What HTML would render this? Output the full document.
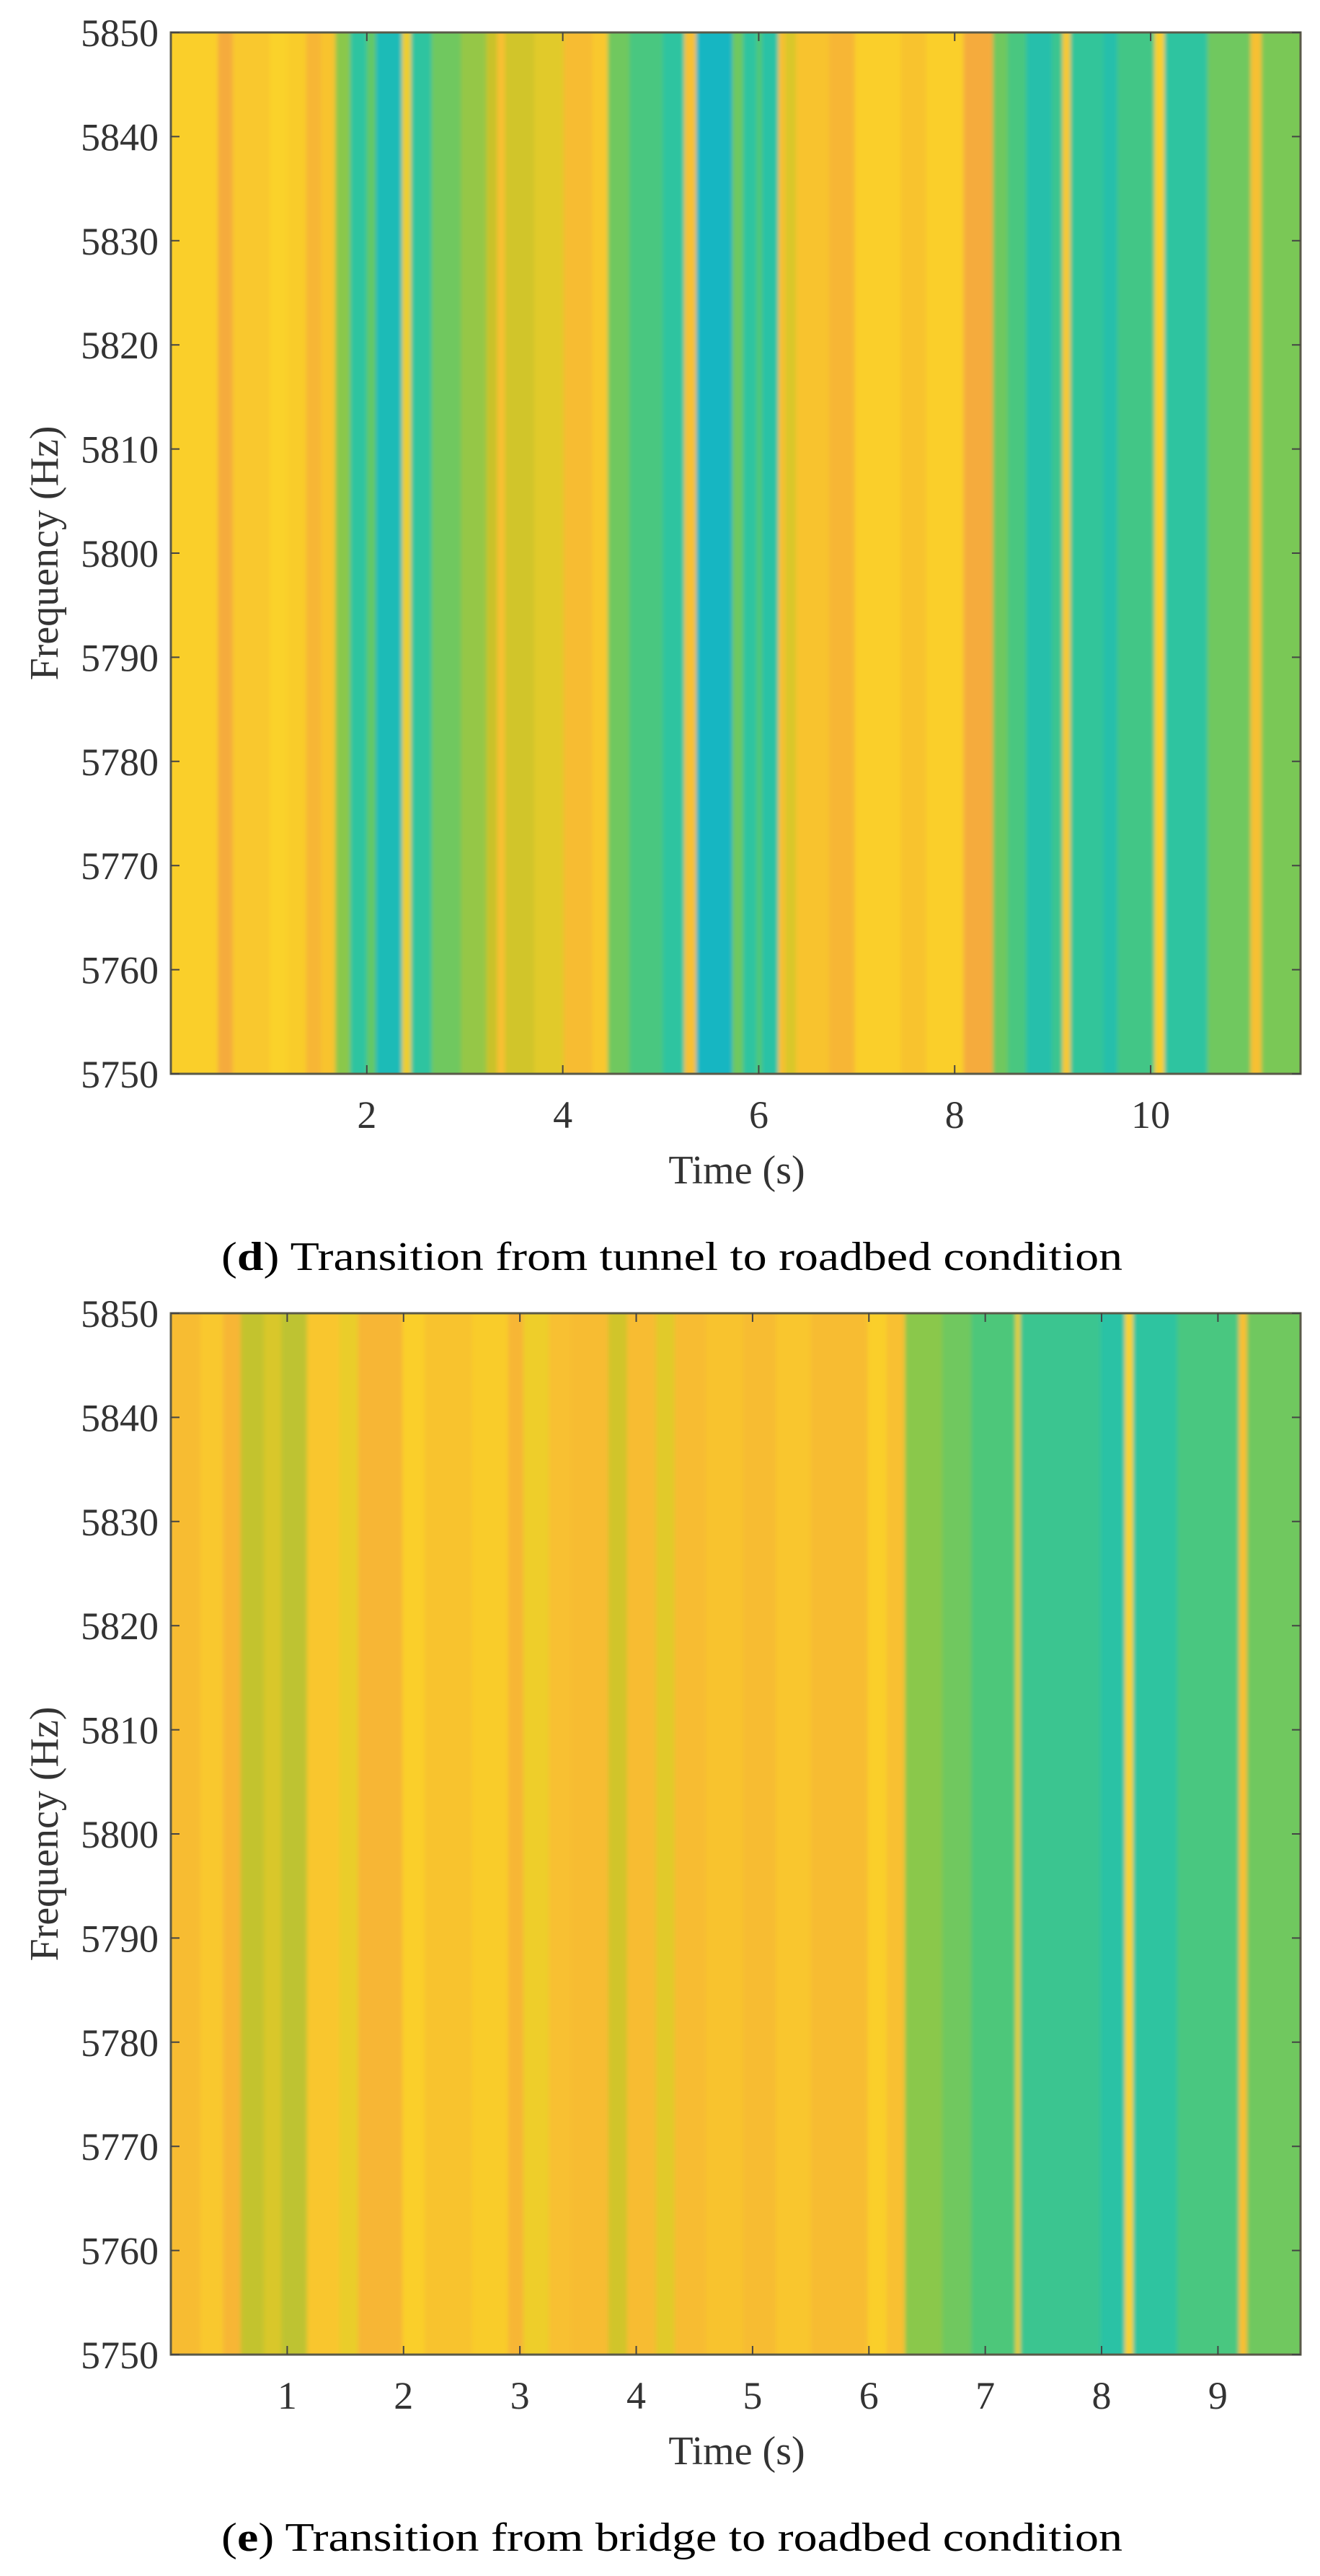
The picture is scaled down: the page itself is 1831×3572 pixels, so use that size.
<!DOCTYPE html>
<html><head><meta charset="utf-8"><style>
html,body{margin:0;padding:0;background:#fff;}
svg{display:block;}
text{font-family:"Liberation Serif","Times New Roman",serif;}
</style></head>
<body>
<svg id="fig" xmlns="http://www.w3.org/2000/svg" width="1831" height="3572" viewBox="0 0 1831 3572">
<defs>
<filter id="soft" x="-1%" y="0" width="102%" height="100%"><feGaussianBlur stdDeviation="3 0"/></filter>
<clipPath id="clipd"><rect x="237" y="45" width="1567" height="1444"/></clipPath>
<clipPath id="clipe"><rect x="237" y="1821" width="1567" height="1444"/></clipPath>
</defs>
<rect width="1831" height="3572" fill="#fff"/>
<g id="pd"></g>
<g id="pe"></g>
</svg>
<script>
// Panel (d): segment start times (s) and relative magnitudes
const dStarts = [0,0.48,0.63,1.01,1.19,1.38,1.53,1.68,1.83,2.0,2.09,2.36,2.45,2.66,2.96,3.22,3.33,3.41,3.71,4.01,4.3,4.46,4.68,5.02,5.24,5.36,5.73,5.84,5.98,6.03,6.2,6.27,6.38,6.72,6.98,7.45,7.71,8.09,8.39,8.54,8.73,8.99,9.1,9.18,9.52,9.66,10.04,10.14,10.58,11.02,11.13];
const dValues = [0.8,1.0,0.85,0.78,0.82,0.95,0.88,0.55,0.3,0.48,0.2,0.75,0.3,0.5,0.57,0.66,0.9,0.68,0.72,0.92,0.85,0.5,0.4,0.3,0.9,0.15,0.5,0.3,0.45,0.28,0.9,0.7,0.88,0.95,0.8,0.88,0.8,1.0,0.5,0.4,0.25,0.35,0.85,0.32,0.25,0.38,0.8,0.3,0.5,0.9,0.52];
const dTmax = 11.53;
const dXTicks = [2,4,6,8,10];
// Panel (e)
const eStarts = [0,0.25,0.45,0.6,0.8,0.95,1.17,1.45,1.61,1.99,2.18,2.59,2.9,3.03,3.25,3.44,3.76,3.92,4.17,4.33,4.6,4.92,5.2,5.5,5.99,6.15,6.31,6.63,6.88,7.26,7.3,7.99,8.2,8.27,8.65,9.18,9.25];
const eValues = [0.92,0.85,0.95,0.65,0.7,0.64,0.86,0.74,0.95,0.8,0.88,0.82,0.95,0.75,0.9,0.92,0.68,0.92,0.72,0.92,0.88,0.92,0.86,0.92,0.8,0.9,0.55,0.5,0.42,0.75,0.35,0.28,0.78,0.3,0.4,0.9,0.5];
const eTmax = 9.71;
const eXTicks = [1,2,3,4,5,6,7,8,9];
const yTicks = [5750,5760,5770,5780,5790,5800,5810,5820,5830,5840,5850];

const NS = "http://www.w3.org/2000/svg";
const stops = [[0.15,[22,182,194]],[0.3,[46,196,160]],[0.45,[85,200,112]],[0.55,[138,200,76]],[0.66,[201,194,42]],[0.78,[250,210,42]],[0.9,[248,192,48]],[1.0,[245,171,60]]];
function colorOf(v){
  if(v<=stops[0][0]) return "rgb("+stops[0][1].join(",")+")";
  for(let i=1;i<stops.length;i++){
    if(v<=stops[i][0]){
      const a=stops[i-1],b=stops[i],f=(v-a[0])/(b[0]-a[0]);
      const c=a[1].map((x,k)=>Math.round(x+(b[1][k]-x)*f));
      return "rgb("+c.join(",")+")";
    }
  }
  return "rgb("+stops[stops.length-1][1].join(",")+")";
}
function mk(tag,attrs,parent){
  const el=document.createElementNS(NS,tag);
  for(const k in attrs) el.setAttribute(k,attrs[k]);
  parent.appendChild(el);
  return el;
}
function drawPanel(g,starts,values,tmax,xticks,top,captionBold,captionRest,prefix,clipId){
  const L=237,R=1804,T=top,B=top+1444;
  const xs=t=>L+(t/tmax)*(R-L);
  const ys=f=>B-(f-5750)/100*(B-T);
  const cg=mk("g",{"clip-path":"url(#"+clipId+")"},g);
  const fg=mk("g",{filter:"url(#soft)"},cg);
  for(let i=0;i<starts.length;i++){
    const x0=xs(starts[i]);
    const x1=xs(i+1<starts.length?starts[i+1]:tmax);
    const ext0=(i===0)?8:0, ext1=(i===starts.length-1)?8:0;
    const r=mk("rect",{x:x0-ext0,y:T,width:Math.max(0,x1-x0)+0.6+ext0+ext1,height:B-T,fill:colorOf(values[i])},fg);
    
    
  }
  const frame=mk("rect",{x:L,y:T,width:R-L,height:B-T,fill:"none",stroke:"#5a5a48","stroke-width":3},g);
  
  
  xticks.forEach(t=>{
    const x=xs(t);
    const tk=mk("path",{d:"M"+x+" "+B+"v-12M"+x+" "+T+"v12",stroke:"#444","stroke-width":2},g);
    
    
    const tl=mk("text",{x:x,y:B+75,"font-size":54,"text-anchor":"middle",fill:"#333"},g);
    tl.textContent=t;
    
    
  });
  yTicks.forEach(f=>{
    const y=ys(f);
    const tk=mk("path",{d:"M"+L+" "+y+"h12M"+R+" "+y+"h-12",stroke:"#444","stroke-width":2},g);
    
    
    const tl=mk("text",{x:220,y:y+19,"font-size":54,"text-anchor":"end",fill:"#333"},g);
    tl.textContent=f;
    
    
  });
  const xt=mk("text",{x:1022,y:B+152,"font-size":56,"text-anchor":"middle",fill:"#333"},g);
  xt.textContent="Time (s)";
  
  
  const cy=(T+B)/2;
  const yt=mk("text",{x:0,y:0,"font-size":56,"text-anchor":"middle",fill:"#333",transform:"translate(80,"+cy+") rotate(-90)"},g);
  yt.textContent="Frequency (Hz)";
  
  
  const cap=mk("text",{x:932,y:B+272,"font-size":56,"text-anchor":"middle",fill:"#000",textLength:1250,lengthAdjust:"spacingAndGlyphs"},g);
  
  
  const t1=mk("tspan",{},cap); t1.textContent="(";
  const t2=mk("tspan",{"font-weight":"bold"},cap); t2.textContent=captionBold;
  const t3=mk("tspan",{},cap); t3.textContent=") "+captionRest;
}
drawPanel(document.getElementById("pd"),dStarts,dValues,dTmax,dXTicks,45,"d","Transition from tunnel to roadbed condition","panel-d","clipd");
drawPanel(document.getElementById("pe"),eStarts,eValues,eTmax,eXTicks,1821,"e","Transition from bridge to roadbed condition","panel-e","clipe");
</script>
</body></html>
